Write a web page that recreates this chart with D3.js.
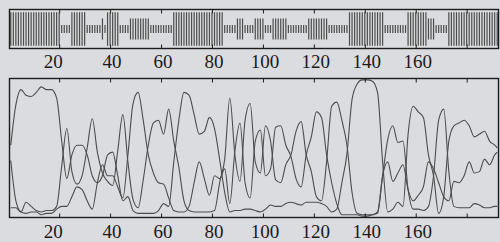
<!DOCTYPE html>
<html>
<head>
<meta charset="utf-8">
<style>
  body { margin:0; background:#dadce0; }
  svg { display:block; }
  text { font-family:"Liberation Serif", "DejaVu Serif", serif; }
</style>
</head>
<body>
<div class="chart"></div>

<script src="https://d3js.org/d3.v7.min.js"></script>

<script>
// state of every residue 1..192 (H = tall, E = medium, C = short bar)
const stateString =
  "HHHHHHHHHHHHHHHHHHHH" + "CCCC" + "HHHHHH" + "CCCCCC" + "E" + "C" + "HHHHH" + "CCCC" +
  "EEEEEEEE" + "CCCCCCCCC" + "HHHHHHHHHHHHHHHHHHHH" + "CCCCC" + "EEE" + "CCCC" + "EEEE" +
  "CCC" + "EEEEEE" + "CCCCCCCC" + "EEEEEEEE" + "CCCCCCCC" + "HHHHHHHHHHHHHH" +
  "CCCCCCCCC" + "HHHHHHHH" + "EEE" + "CCCCC" + "HHHHHHHHHHHHHHHHHHHH";
const states = stateString.split("");

// probability curves, sampled at residues 1,3,5,...,191,192
const positions = d3.range(1, 192, 2).concat([192]);
const probH = [.52,.81,.92,.88,.87,.90,.94,.92,.92,.86, .55,.28,.45,.52,.52,.45,.30,.25,.30,.45,
               .47,.30,.12,.15,.05,.03,.03,.03,.03,.05, .10,.08,.40,.70,.90,.88,.74,.60,.62,.72,
               .64,.42,.18,.04,.05,.05,.06,.06,.05,.04, .06,.09,.08,.08,.10,.11,.10,.09,.11,.11,
               .11,.10,.08,.04,.06,.25,.46,.85,.96,.99, .99,.98,.90,.40,.04,.06,.11,.08,.60,.80,
               .76,.72,.45,.30,.03,.15,.55,.66,.68,.70, .66,.58,.60,.62,.55,.52,.50];
const probE = [.41,.12,.04,.03,.04,.04,.02,.03,.03,.06, .08,.08,.15,.22,.20,.12,.06,.25,.38,.30,
               .30,.22,.14,.45,.82,.90,.70,.45,.32,.25, .24,.14,.05,.04,.04,.08,.25,.40,.28,.16,
               .30,.28,.35,.10,.48,.68,.25,.14,.55,.63, .30,.35,.65,.66,.52,.44,.28,.22,.45,.58,
               .76,.72,.45,.25,.10,.02,.02,.02,.02,.01, .01,.02,.03,.30,.40,.26,.32,.38,.20,.12,
               .16,.22,.40,.35,.25,.15,.12,.26,.25,.30, .40,.32,.33,.42,.38,.45,.47];
const probC = [.07,.07,.04,.11,.08,.05,.04,.05,.05,.08, .37,.64,.33,.24,.30,.50,.71,.47,.32,.26,
               .23,.48,.74,.40,.13,.07,.27,.52,.68,.70, .60,.78,.55,.36,.12,.05,.04,.04,.04,.04,
               .05,.25,.42,.86,.45,.26,.70,.82,.40,.32, .66,.55,.27,.25,.38,.45,.62,.69,.45,.33,
               .15,.12,.40,.80,.83,.70,.52,.18,.03,.02, .02,.02,.04,.30,.56,.66,.54,.55,.20,.06,
               .06,.05,.08,.30,.70,.78,.33,.08,.07,.07, .07,.10,.09,.07,.07,.08,.08];

const tickValues = [20, 40, 60, 80, 100, 120, 140, 160, 180];
const tickLabels = ["20", "40", "60", "80", "100", "120", "140", "160", ""];

const width = 500, height = 242;
const left = 9.5, right = 498.5;
const strip = { top: 9.5, bottom: 48.5 };
const plot = { top: 78.5, bottom: 217.5 };
const ink = "#4c4c4c", frame = "#1c1c1c";

const x = d3.scaleLinear().domain([0.5, 192.5]).range([left, right]);
const yStrip = d3.scaleLinear().domain([-1, 1]).range([strip.bottom, strip.top]);
const barHalf = { H: 0.86, E: 0.54, C: 0.2 };
const y = d3.scaleLinear().domain([0, 1]).range([plot.bottom, plot.top]);

const svg = d3.select(".chart")
  .append("svg")
    .attr("width", width)
    .attr("height", height);

svg.append("rect").attr("width", width).attr("height", height).attr("fill", "#dadce0");

// barcode strip
svg.append("g")
  .selectAll("line")
  .data(states)
  .join("line")
    .attr("x1", (d, i) => x(i + 1))
    .attr("x2", (d, i) => x(i + 1))
    .attr("y1", d => yStrip(barHalf[d]))
    .attr("y2", d => yStrip(-barHalf[d]))
    .attr("stroke", ink)
    .attr("stroke-width", 1.2);

// probability curves
const line = d3.line()
  .x((d, i) => x(positions[i]))
  .y(d => y(d))
  .curve(d3.curveMonotoneX);

svg.append("g")
  .selectAll("path")
  .data([probH, probE, probC])
  .join("path")
    .attr("d", line)
    .attr("fill", "none")
    .attr("stroke", ink)
    .attr("stroke-width", 1.1);

// frames, inward ticks and labels
function frameBox(top, bottom, labelY) {
  svg.append("rect")
    .attr("x", left).attr("y", top)
    .attr("width", right - left).attr("height", bottom - top)
    .attr("fill", "none").attr("stroke", frame).attr("stroke-width", 1.4);

  const axB = d3.axisBottom(x).tickValues(tickValues).tickSize(-4).tickFormat("");
  const axT = d3.axisTop(x).tickValues(tickValues).tickSize(-4).tickFormat("");
  const gB = svg.append("g").attr("transform", `translate(0,${bottom})`).call(axB);
  const gT = svg.append("g").attr("transform", `translate(0,${top})`).call(axT);
  [gB, gT].forEach(g => {
    g.select(".domain").remove();
    g.selectAll("line").attr("stroke", frame).attr("stroke-width", 1);
  });

  svg.append("g")
    .selectAll("text")
    .data(tickValues)
    .join("text")
      .attr("x", d => x(d) + (d === 20 ? -6 : 2))
      .attr("y", labelY)
      .attr("text-anchor", "middle")
      .attr("font-size", 19)
      .attr("fill", "#1a1a1a")
      .text((d, i) => tickLabels[i]);
}

frameBox(strip.top, strip.bottom, 67.5);
frameBox(plot.top, plot.bottom, 238);
</script>
</body>
</html>
